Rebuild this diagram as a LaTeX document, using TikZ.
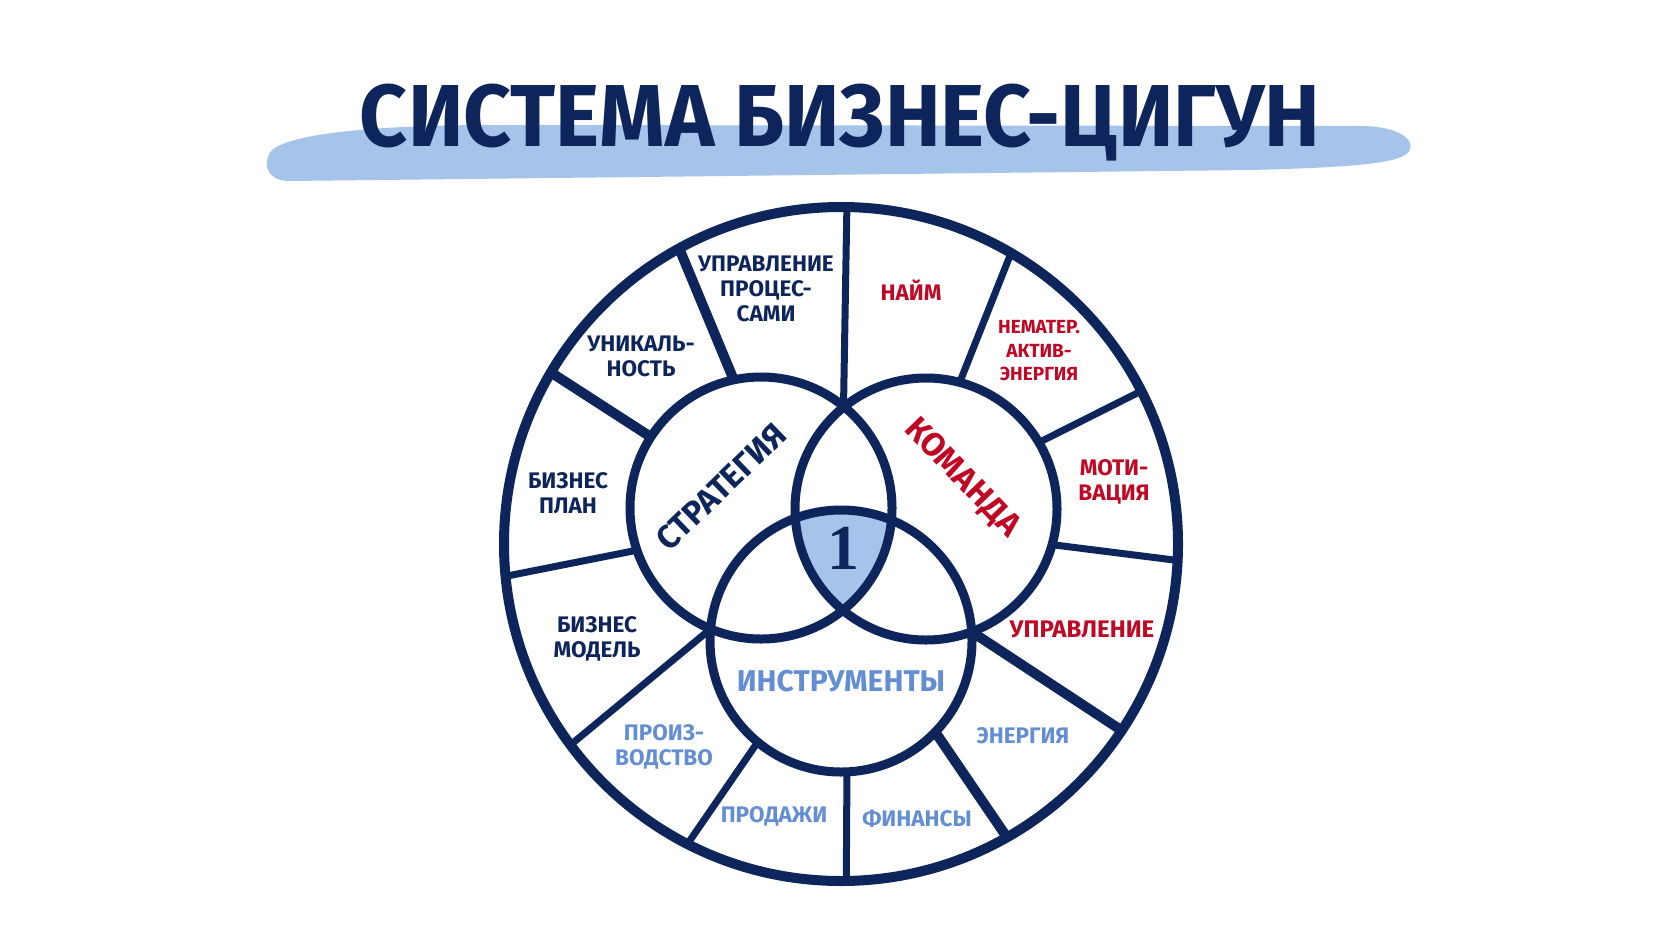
\documentclass[tikz,border=0pt]{standalone}
\usepackage{fontspec}
\setmainfont{Fira Sans}
\newfontfamily\onefont{Liberation Serif}
\usetikzlibrary{calc}
\definecolor{navy}{RGB}{14,37,92}
\definecolor{fillblue}{RGB}{166,196,234}
\definecolor{redtxt}{RGB}{192,8,36}
\definecolor{bluetxt}{RGB}{100,142,212}
\begin{document}
\begin{tikzpicture}[x=1pt,y=-1pt,
  ringline/.style={draw=navy,line width=9pt},
  spoke/.style={draw=navy,line width=7pt},
  heavyspoke/.style={draw=navy,line width=10pt},
  lab/.style={font=\bfseries\fontsize{22.5}{25}\selectfont, align=center, inner sep=0pt},
  biglab/.style={font=\bfseries\fontsize{33}{33}\selectfont, inner sep=0pt},
  titletext/.style={font=\bfseries\fontsize{88}{88}\selectfont, text=navy, xscale=0.95, inner sep=0pt}
]
\useasboundingbox (0,0) rectangle (1680,945);
\fill[white] (0,0) rectangle (1680,945);

% title band
\fill[fillblue] (290,181) .. controls (262,181) and (264,158) .. (272,150)
  .. controls (290,135) and (360,126) .. (480,125) -- (1360,126)
  .. controls (1405,126) and (1420,145) .. (1405,155)
  .. controls (1390,165) and (1330,168) .. (1250,170) -- cycle;
\node[titletext] (title) at (840,123) {СИСТЕМА БИЗНЕС-ЦИГУН};

% centres
\coordinate (O) at (841,544);
\coordinate (S) at (761,508);
\coordinate (T) at (926,509);
\coordinate (I) at (841,641);

% central shield
\begin{scope}
  \clip (S) circle[radius=131pt];
  \clip (T) circle[radius=131pt];
  \fill[fillblue] (I) circle[radius=131pt];
\end{scope}

% spoke end points
\coordinate (a1) at (843.5,406.7);  \coordinate (b1) at ($(O)+(89:337pt)$);
\coordinate (a2) at ($(S)+(102:131pt)$);   \coordinate (b2) at ($(O)+(118.7:337pt)$);
\coordinate (a3) at ($(S)+(147.2:131pt)$); \coordinate (b3) at ($(O)+(149.4:337pt)$);
\coordinate (a4) at ($(S)+(198.8:131pt)$); \coordinate (b4) at ($(O)+(185.5:337pt)$);
\coordinate (a5) at (710.6,628.9);  \coordinate (b5) at ($(O)+(216.6:337pt)$);
\coordinate (a6) at ($(I)+(230.5:131pt)$); \coordinate (b6) at ($(O)+(242.9:337pt)$);
\coordinate (a7) at ($(I)+(-87.4:131pt)$); \coordinate (b7) at ($(O)+(270.9:337pt)$);
\coordinate (a8) at ($(I)+(-44:131pt)$);   \coordinate (b8) at ($(O)+(299.5:337pt)$);
\coordinate (a9) at (971.7,631.8);  \coordinate (b9) at ($(O)+(326.4:337pt)$);
\coordinate (a10) at ($(T)+(-15.8:131pt)$); \coordinate (b10) at ($(O)+(357.2:337pt)$);
\coordinate (a11) at ($(T)+(30.5:131pt)$);  \coordinate (b11) at ($(O)+(27:337pt)$);
\coordinate (a12) at ($(T)+(75.1:131pt)$);  \coordinate (b12) at ($(O)+(59.7:337pt)$);

\draw[spoke] (a1) -- (b1);
\draw[heavyspoke] (a2) -- (b2);
\draw[heavyspoke] (a3) -- (b3);
\draw[spoke] (a4) -- (b4);
\draw[spoke] (a5) -- (b5);
\draw[spoke] (a6) -- (b6);
\draw[spoke] (a7) -- (b7);
\draw[heavyspoke] (a8) -- (b8);
\draw[heavyspoke] (a9) -- (b9);
\draw[spoke] (a10) -- (b10);
\draw[spoke] (a11) -- (b11);
\draw[spoke] (a12) -- (b12);

% circles
\draw[ringline, line width=10pt] (O) circle[radius=337pt];
\draw[ringline] (S) circle[radius=131pt];
\draw[ringline] (T) circle[radius=131pt];
\draw[ringline] (I) circle[radius=131pt];

% inner labels
\node[biglab, text=navy, rotate=44] (strat) at (721,487) {СТРАТЕГИЯ};
\node[biglab, text=redtxt, rotate=-46] (team) at (962,478) {КОМАНДА};
\node[font=\bfseries\fontsize{30}{30}\selectfont, text=bluetxt, inner sep=0pt] (instr) at (841,681) {ИНСТРУМЕНТЫ};
\node[font=\onefont\bfseries\fontsize{64}{64}\selectfont, text=navy, inner sep=0pt] (one) at (843,548) {1};

% ring labels
\node[lab, text=navy] (l1) at (766,289) {УПРАВЛЕНИЕ\\ПРОЦЕС-\\САМИ};
\node[lab, text=navy] (l2) at (641,356) {УНИКАЛЬ-\\НОСТЬ};
\node[lab, text=navy] (l3) at (568,493) {БИЗНЕС\\ПЛАН};
\node[lab, text=navy] (l4) at (597,639) {БИЗНЕС\\МОДЕЛЬ};
\node[lab, text=bluetxt] (l5) at (664,747) {ПРОИЗ-\\ВОДСТВО};
\node[lab, text=bluetxt] (l6) at (774,816) {ПРОДАЖИ};
\node[lab, text=bluetxt] (l7) at (917,819) {ФИНАНСЫ};
\node[lab, text=bluetxt] (l8) at (1023,736) {ЭНЕРГИЯ};
\node[lab, text=redtxt, font=\bfseries\fontsize{24}{25}\selectfont] (l9) at (1082,629) {УПРАВЛЕНИЕ};
\node[lab, text=redtxt] (l10) at (1114,482) {МОТИ-\\ВАЦИЯ};
\node[lab, text=redtxt, font=\bfseries\fontsize{19}{23.5}\selectfont] (l11) at (1039,351) {НЕМАТЕР.\\АКТИВ-\\ЭНЕРГИЯ};
\node[lab, text=redtxt] (l12) at (911,290) {НАЙМ};
\end{tikzpicture}
\end{document}
